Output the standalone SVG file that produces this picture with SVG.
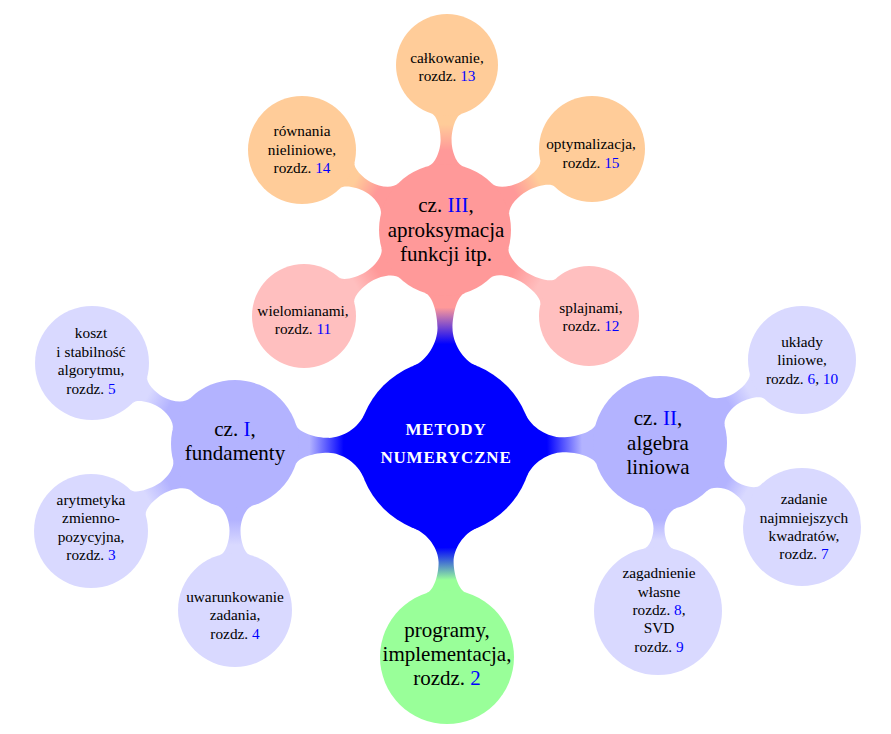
<svg xmlns="http://www.w3.org/2000/svg" width="891" height="734" viewBox="0 0 891 734">
<defs>
<style>
text{font-family:"Liberation Serif","Times New Roman",serif;text-anchor:middle;fill:#000}
.l1{font-size:21px}
.l2{font-size:15.3px}
.c0{font-size:17px;font-weight:bold;fill:#fff;letter-spacing:0.8px}
.n{fill:#0000ff}
</style>
<linearGradient id="gB3" x1="0" y1="0" x2="1" y2="0"><stop offset="0.3" stop-color="#0000ff"/><stop offset="0.8" stop-color="#ff9999"/></linearGradient>
<linearGradient id="gB1" x1="0" y1="0" x2="1" y2="0"><stop offset="0.3" stop-color="#0000ff"/><stop offset="0.8" stop-color="#b3b3ff"/></linearGradient>
<linearGradient id="gBp" x1="0" y1="0" x2="1" y2="0"><stop offset="0.3" stop-color="#0000ff"/><stop offset="0.8" stop-color="#99ff99"/></linearGradient>
<linearGradient id="gRO" x1="0" y1="0" x2="1" y2="0"><stop offset="0.3" stop-color="#ff9999"/><stop offset="0.8" stop-color="#ffcc99"/></linearGradient>
<linearGradient id="gRP" x1="0" y1="0" x2="1" y2="0"><stop offset="0.3" stop-color="#ff9999"/><stop offset="0.8" stop-color="#ffbfbf"/></linearGradient>
<linearGradient id="gL" x1="0" y1="0" x2="1" y2="0"><stop offset="0.3" stop-color="#b3b3ff"/><stop offset="0.8" stop-color="#d9d9ff"/></linearGradient>
</defs>
<rect width="891" height="734" fill="#fff"/>
<g id="connectors">
<path fill="url(#gB3)" transform="translate(445,447) rotate(-90)" d="M80.9,-32 C86.72,-17.3 104.6,-7.5 119,-7.5 C133.4,-7.5 151.72,-12.5 154.1,-20 L154.1,20 C151.72,12.5 133.4,7.5 119,7.5 C104.6,7.5 86.72,17.3 80.9,32 Z"/>
<path fill="url(#gB1)" transform="translate(445,447) rotate(180.8)" d="M80.9,-32 C86.72,-17.3 103.2,-7.5 116.5,-7.5 C129.8,-7.5 146.73,-12.5 149.2,-20 L149.2,20 C146.73,12.5 129.8,7.5 116.5,7.5 C103.2,7.5 86.72,17.3 80.9,32 Z"/>
<path fill="url(#gB1)" transform="translate(445,447) rotate(-1.07)" d="M80.9,-32 C86.72,-17.3 103.8,-7.5 117.5,-7.5 C131.2,-7.5 148.7,-12.5 151.05,-20 L151.05,20 C148.7,12.5 131.2,7.5 117.5,7.5 C103.8,7.5 86.72,17.3 80.9,32 Z"/>
<path fill="url(#gBp)" transform="translate(445,447) rotate(89.45)" d="M80.9,-32 C86.72,-17.3 102.4,-7.5 115,-7.5 C127.6,-7.5 143.7,-12.5 146.05,-20 L146.05,20 C143.7,12.5 127.6,7.5 115,7.5 C102.4,7.5 86.72,17.3 80.9,32 Z"/>
<path fill="url(#gRO)" transform="translate(445,230) rotate(-89.3)" d="M63.5,-18 C65.63,-10.5 79.2,-5.5 90,-5.5 C100.8,-5.5 114.51,-9.3 116.26,-15 L116.26,15 C114.51,9.3 100.8,5.5 90,5.5 C79.2,5.5 65.63,10.5 63.5,18 Z"/>
<path fill="url(#gRO)" transform="translate(445,230) rotate(-150.8)" d="M63.5,-18 C65.63,-10.5 78.07,-5.5 87.95,-5.5 C97.83,-5.5 110.38,-9.3 112.03,-15 L112.03,15 C110.38,9.3 97.83,5.5 87.95,5.5 C78.07,5.5 65.63,10.5 63.5,18 Z"/>
<path fill="url(#gRO)" transform="translate(445,230) rotate(-28.86)" d="M63.5,-18 C65.63,-10.5 79.42,-5.5 90.4,-5.5 C101.38,-5.5 115.29,-9.3 116.97,-15 L116.97,15 C115.29,9.3 101.38,5.5 90.4,5.5 C79.42,5.5 65.63,10.5 63.5,18 Z"/>
<path fill="url(#gRP)" transform="translate(445,230) rotate(148.62)" d="M63.5,-18 C65.63,-10.5 78.98,-5.5 89.6,-5.5 C100.22,-5.5 113.69,-9.3 115.41,-15 L115.41,15 C113.69,9.3 100.22,5.5 89.6,5.5 C78.98,5.5 65.63,10.5 63.5,18 Z"/>
<path fill="url(#gRP)" transform="translate(445,230) rotate(30.85)" d="M63.5,-18 C65.63,-10.5 80.22,-5.5 91.85,-5.5 C103.48,-5.5 118.21,-9.3 120,-15 L120,15 C118.21,9.3 103.48,5.5 91.85,5.5 C80.22,5.5 65.63,10.5 63.5,18 Z"/>
<path fill="url(#gL)" transform="translate(235,444) rotate(-150.47)" d="M61.42,-18 C63.62,-10.5 75.91,-5.5 85.65,-5.5 C95.39,-5.5 107.75,-9.3 109.31,-15 L109.31,15 C107.75,9.3 95.39,5.5 85.65,5.5 C75.91,5.5 63.62,10.5 61.42,18 Z"/>
<path fill="url(#gL)" transform="translate(235,444) rotate(148.86)" d="M61.42,-18 C63.62,-10.5 76.98,-5.5 87.6,-5.5 C98.22,-5.5 111.65,-9.3 113.21,-15 L113.21,15 C111.65,9.3 98.22,5.5 87.6,5.5 C76.98,5.5 63.62,10.5 61.42,18 Z"/>
<path fill="url(#gL)" transform="translate(235,444) rotate(90)" d="M61.42,-18 C63.62,-10.5 76.38,-5.5 86.5,-5.5 C96.63,-5.5 109.45,-9.3 111.01,-15 L111.01,15 C109.45,9.3 96.63,5.5 86.5,5.5 C76.38,5.5 63.62,10.5 61.42,18 Z"/>
<path fill="url(#gL)" transform="translate(660,443) rotate(-30.31)" d="M64.54,-18 C66.64,-10.5 78.96,-5.5 88.75,-5.5 C98.54,-5.5 110.98,-9.3 112.63,-15 L112.63,15 C110.98,9.3 98.54,5.5 88.75,5.5 C78.96,5.5 66.64,10.5 64.54,18 Z"/>
<path fill="url(#gL)" transform="translate(660,443) rotate(30.6)" d="M64.54,-18 C66.64,-10.5 77.73,-5.5 86.5,-5.5 C95.28,-5.5 106.44,-9.3 107.94,-15 L107.94,15 C106.44,9.3 95.28,5.5 86.5,5.5 C77.73,5.5 66.64,10.5 64.54,18 Z"/>
<path fill="url(#gL)" transform="translate(660,443) rotate(90.68)" d="M64.54,-18 C66.64,-10.5 77.18,-5.5 85.5,-5.5 C93.83,-5.5 104.41,-9.3 105.78,-15 L105.78,15 C104.41,9.3 93.83,5.5 85.5,5.5 C77.18,5.5 66.64,10.5 64.54,18 Z"/>
</g>
<g id="center">
<circle cx="445" cy="447" r="87" fill="#0000ff"/>
<text class="c0" x="446" y="435">METODY</text>
<text class="c0" x="446" y="463">NUMERYCZNE</text>
</g>
<g id="cz3">
<circle cx="445" cy="230" r="66" fill="#ff9999"/>
<text class="l1" x="446" y="212">cz. <tspan class="n">III</tspan>,</text>
<text class="l1" x="446" y="237">aproksymacja</text>
<text class="l1" x="446" y="261">funkcji itp.</text>
</g>
<g id="cz1">
<circle cx="235" cy="444" r="64" fill="#b3b3ff"/>
<text class="l1" x="235" y="436">cz. <tspan class="n">I</tspan>,</text>
<text class="l1" x="235" y="460">fundamenty</text>
</g>
<g id="cz2">
<circle cx="660" cy="443" r="67" fill="#b3b3ff"/>
<text class="l1" x="658" y="425">cz. <tspan class="n">II</tspan>,</text>
<text class="l1" x="658" y="450">algebra</text>
<text class="l1" x="658" y="474">liniowa</text>
</g>
<g id="programy">
<circle cx="447" cy="657" r="67" fill="#99ff99"/>
<text class="l1" x="447" y="637">programy,</text>
<text class="l1" x="447" y="661">implementacja,</text>
<text class="l1" x="447" y="685">rozdz. <tspan class="n">2</tspan></text>
</g>
<g id="calkowanie">
<circle cx="447" cy="65" r="51" fill="#ffcc99"/>
<text class="l2" x="447" y="63">całkowanie,</text>
<text class="l2" x="447" y="81">rozdz. <tspan class="n">13</tspan></text>
</g>
<g id="rownania">
<circle cx="302" cy="150" r="54" fill="#ffcc99"/>
<text class="l2" x="302" y="136">równania</text>
<text class="l2" x="302" y="154.5">nieliniowe,</text>
<text class="l2" x="302" y="173">rozdz. <tspan class="n">14</tspan></text>
</g>
<g id="optymalizacja">
<circle cx="592" cy="149" r="53" fill="#ffcc99"/>
<text class="l2" x="591" y="149">optymalizacja,</text>
<text class="l2" x="591" y="167.5">rozdz. <tspan class="n">15</tspan></text>
</g>
<g id="wielomianami">
<circle cx="304" cy="316" r="52" fill="#ffbfbf"/>
<text class="l2" x="303" y="316">wielomianami,</text>
<text class="l2" x="303" y="334">rozdz. <tspan class="n">11</tspan></text>
</g>
<g id="splajnami">
<circle cx="589" cy="316" r="50" fill="#ffbfbf"/>
<text class="l2" x="591" y="313">splajnami,</text>
<text class="l2" x="591" y="331">rozdz. <tspan class="n">12</tspan></text>
</g>
<g id="koszt">
<circle cx="92" cy="363" r="57" fill="#d9d9ff"/>
<text class="l2" x="91" y="338">koszt</text>
<text class="l2" x="91" y="356.5">i stabilność</text>
<text class="l2" x="91" y="375">algorytmu,</text>
<text class="l2" x="91" y="393.5">rozdz. <tspan class="n">5</tspan></text>
</g>
<g id="arytmetyka">
<circle cx="91" cy="531" r="57" fill="#d9d9ff"/>
<text class="l2" x="91" y="505">arytmetyka</text>
<text class="l2" x="91" y="523">zmienno-</text>
<text class="l2" x="91" y="541.5">pozycyjna,</text>
<text class="l2" x="91" y="560">rozdz. <tspan class="n">3</tspan></text>
</g>
<g id="uwarunkowanie">
<circle cx="235" cy="610" r="57" fill="#d9d9ff"/>
<text class="l2" x="235" y="602">uwarunkowanie</text>
<text class="l2" x="235" y="620">zadania,</text>
<text class="l2" x="235" y="638.5">rozdz. <tspan class="n">4</tspan></text>
</g>
<g id="uklady">
<circle cx="802" cy="360" r="54" fill="#d9d9ff"/>
<text class="l2" x="802" y="347">układy</text>
<text class="l2" x="802" y="365">liniowe,</text>
<text class="l2" x="802" y="383.5">rozdz. <tspan class="n">6</tspan>, <tspan class="n">10</tspan></text>
</g>
<g id="zadanie">
<circle cx="802" cy="527" r="59" fill="#d9d9ff"/>
<text class="l2" x="804" y="504">zadanie</text>
<text class="l2" x="804" y="522.5">najmniejszych</text>
<text class="l2" x="804" y="541">kwadratów,</text>
<text class="l2" x="804" y="559">rozdz. <tspan class="n">7</tspan></text>
</g>
<g id="zagadnienie">
<circle cx="658" cy="611" r="64" fill="#d9d9ff"/>
<text class="l2" x="659" y="578">zagadnienie</text>
<text class="l2" x="659" y="596.5">własne</text>
<text class="l2" x="659" y="615">rozdz. <tspan class="n">8</tspan>,</text>
<text class="l2" x="659" y="633">SVD</text>
<text class="l2" x="659" y="652">rozdz. <tspan class="n">9</tspan></text>
</g>
</svg>
